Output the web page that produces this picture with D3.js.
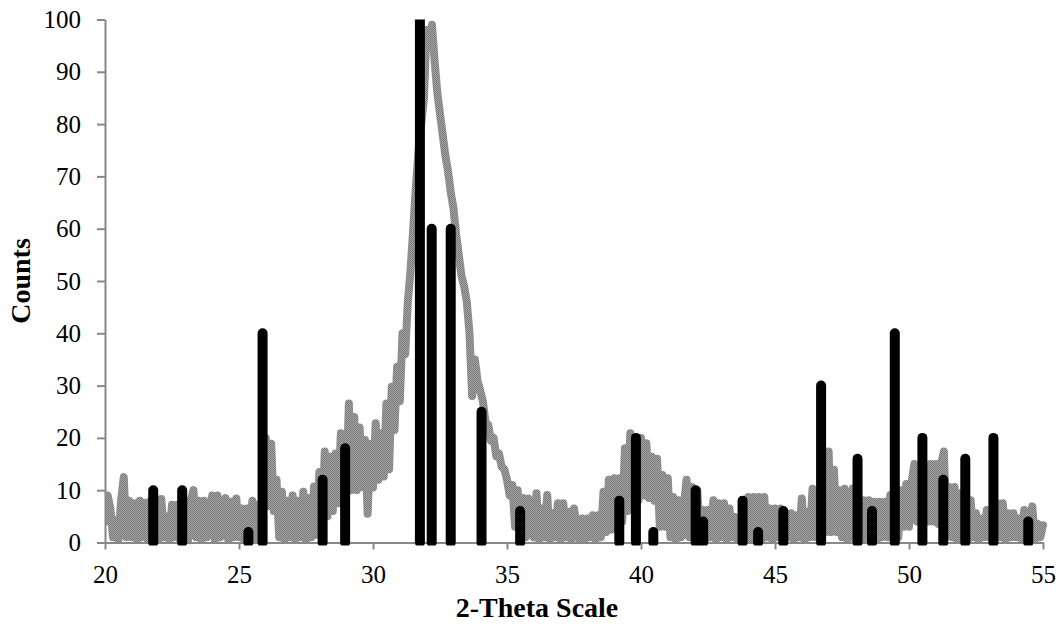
<!DOCTYPE html>
<html>
<head>
<meta charset="utf-8">
<script src="https://cdn.jsdelivr.net/npm/d3@7"></script>
<style>
  body { margin: 0; background: #fff; }
  svg { display: block; }
</style>
</head>
<body>
<svg id="chart" width="1061" height="629"></svg>
<script>
// Measured scan, 2-theta from 20 to 55 in steps of 0.1
var scanStart = 20
var scanStep = 0.1
var counts = [
  4, 9, 6.5, 1, 4.3, 0.5, 8, 12.5, 1, 8,
  1, 7.5, 0.5, 8, 1, 7.6, 0.5, 8, 1, 7.5,
  0.5, 8.3, 1, 5, 0.5, 7.2, 1, 7.2, 0.5, 7,
  8, 0.5, 8, 10, 1, 8, 0.5, 8, 1, 5.3,
  9, 0.5, 9, 1, 6.5, 8.5, 0.5, 7.8, 1, 8.4,
  1, 6.5, 0.5, 6.5, 1, 8, 0.5, 7.2, 1, 7,
  20, 7, 18.9, 6, 12, 1, 9.7, 0.5, 8, 1,
  9, 0.5, 8, 1, 9.7, 0.5, 8.5, 1, 10.7, 1.5,
  13.5, 2, 17.4, 5, 16.4, 6, 17, 7.5, 20.9, 9,
  10, 26.6, 10, 24, 10, 22, 10.6, 19.6, 5.5, 18.9,
  10.5, 22.8, 12, 20.9, 12.6, 26.6, 14, 29.8, 21.5, 33.6,
  27, 40, 36, 46, 52, 60, 68, 75, 80, 85,
  98, 96, 99, 92, 86, 82, 78, 74, 71, 67,
  64, 59, 55, 51, 49, 46, 40, 28, 35, 31,
  29, 27, 23, 22.5, 19.5, 20, 16.5, 17, 14.5, 14,
  12, 9, 11, 3, 10, 2, 8.5, 1, 8.4, 5.9,
  1, 9.4, 0.5, 6.5, 1, 9.1, 0.5, 5.6, 1, 7.5,
  0.5, 7.5, 1, 5.9, 0.5, 6.5, 3, 0.5, 4.6, 0.5,
  4.6, 1, 5.2, 0.5, 5.2, 1, 9.7, 2, 12, 2.5,
  12.3, 3, 12.3, 4, 18, 6, 20.9, 7, 20, 8,
  20, 9, 19, 8.5, 16.4, 8, 16, 3, 12.9, 3,
  12.3, 1, 8.7, 0.5, 8.1, 1, 7, 12, 1, 10.6,
  1, 10, 1, 6.2, 0.5, 6.2, 1, 8.1, 0.5, 7.5,
  1, 7.5, 0.5, 6.5, 1, 4.9, 0.5, 4.3, 1, 4.3,
  8.7, 0.5, 8.7, 1, 8.7, 0.5, 8.7, 1, 6.5, 0.5,
  6.5, 1, 6.5, 0.5, 5.6, 1, 5.6, 0.5, 5.2, 1,
  8.4, 0.5, 5.9, 1, 10.3, 1, 10, 2, 12, 2,
  17.4, 2, 13.9, 2, 10, 1, 10.3, 0.5, 6.9, 10.3,
  0.5, 7, 1, 8.1, 0.5, 8.1, 1, 7.8, 0.5, 7.8,
  1, 7.8, 1, 9.1, 1, 9, 1, 10, 3, 11.2,
  3, 11.6, 15, 4, 11.9, 3, 12, 4, 15, 4,
  15, 3.5, 15, 17.4, 2, 10.6, 1, 10.6, 0.5, 9.4,
  1, 8.7, 0.5, 8.1, 1, 5.6, 0.5, 4.6, 1, 6.2,
  1, 4.6, 0.5, 7.5, 1, 7.5, 0.5, 5.6, 1, 5.6,
  1, 4.6, 0.5, 6.2, 1, 4.6, 6.9, 0.5, 3.6, 1,
  3.3
]

// Reference pattern (stick lines)
var peakPos = [21.80, 22.88, 25.35, 25.88, 28.12, 28.96, 31.75, 32.19, 32.90, 34.05,
               35.49, 39.19, 39.81, 40.46, 42.04, 42.32, 43.79, 44.37, 45.31, 46.72,
               48.08, 48.62, 49.47, 50.50, 51.28, 52.10, 53.15, 54.45]
var peakInt = [10, 10, 2, 40, 12, 18, 100, 60, 60, 25,
               6, 8, 20, 2, 10, 4, 8, 2, 6, 30,
               16, 6, 40, 20, 12, 16, 20, 4]

var xTicks = [20, 25, 30, 35, 40, 45, 50, 55]
var yTicks = [0, 10, 20, 30, 40, 50, 60, 70, 80, 90, 100]

// plot box (named so they don't clash with window.top)
var plotLeft = 105, plotRight = 1043, plotTop = 19.5, plotBottom = 542.5
var axisColor = '#888888'
var font = '"Liberation Serif", "Times New Roman", serif'

var x = d3.scaleLinear().domain([20, 55]).range([plotLeft, plotRight])
var y = d3.scaleLinear().domain([0, 100]).range([plotBottom, plotTop])

var svg = d3.select('#chart')
var defs = svg.append('defs')

// checker pattern, like the dithered grey of the original
var pat = defs.append('pattern')
    .attr('id', 'dither')
    .attr('patternUnits', 'userSpaceOnUse')
    .attr('width', 2)
    .attr('height', 2)
pat.append('rect').attr('width', 2).attr('height', 2).attr('fill', '#a2a2a2')
pat.append('rect').attr('width', 1).attr('height', 1).attr('fill', '#7c7c7c')
pat.append('rect').attr('x', 1).attr('y', 1).attr('width', 1).attr('height', 1).attr('fill', '#7c7c7c')

defs.append('clipPath').attr('id', 'plot-clip')
  .append('rect')
    .attr('x', plotLeft)
    .attr('y', plotTop)
    .attr('width', plotRight - plotLeft + 6)
    .attr('height', plotBottom - plotTop + 3)

// Scan line
var scan = counts.map(function(c, i) { return [scanStart + i * scanStep, c] })

var line = d3.line()
    .x(function(d) { return x(d[0]) })
    .y(function(d) { return y(d[1]) })

svg.append('path')
    .datum(scan)
    .attr('clip-path', 'url(#plot-clip)')
    .attr('d', line)
    .attr('fill', 'none')
    .attr('stroke', 'url(#dither)')
    .attr('stroke-width', 8)
    .attr('stroke-linejoin', 'round')
    .attr('stroke-linecap', 'round')

// Axes
svg.append('g')
    .attr('transform', 'translate(' + plotLeft + ',0)')
    .call(d3.axisLeft(y).tickValues(yTicks).tickSize(8).tickSizeOuter(0).tickPadding(16))

svg.append('g')
    .attr('transform', 'translate(0,' + plotBottom + ')')
    .call(d3.axisBottom(x).tickValues(xTicks).tickSize(7).tickSizeOuter(0).tickPadding(16))

svg.selectAll('.domain, .tick line')
    .attr('stroke', axisColor)
    .attr('stroke-width', 2)

svg.selectAll('.tick text')
    .attr('fill', '#000')
    .style('font-family', font)
    .style('font-size', '25px')

// Stick pattern
svg.append('g')
    .attr('clip-path', 'url(#plot-clip)')
  .selectAll('line')
  .data(peakPos)
  .join('line')
    .attr('x1', function(d) { return x(d) })
    .attr('x2', function(d) { return x(d) })
    .attr('y1', y(0))
    .attr('y2', function(d, i) { return y(peakInt[i]) })
    .attr('stroke', '#000')
    .attr('stroke-width', 10)
    .attr('stroke-linecap', 'round')

// Axis titles
svg.append('text')
    .text('2-Theta Scale')
    .attr('x', 537)
    .attr('y', 617)
    .attr('text-anchor', 'middle')
    .style('font-family', font)
    .style('font-weight', 'bold')
    .style('font-size', '28px')

svg.append('text')
    .text('Counts')
    .attr('transform', 'translate(30,' + (plotTop + plotBottom) / 2 + ') rotate(-90)')
    .attr('text-anchor', 'middle')
    .style('font-family', font)
    .style('font-weight', 'bold')
    .style('font-size', '28px')
</script>
</body>
</html>
